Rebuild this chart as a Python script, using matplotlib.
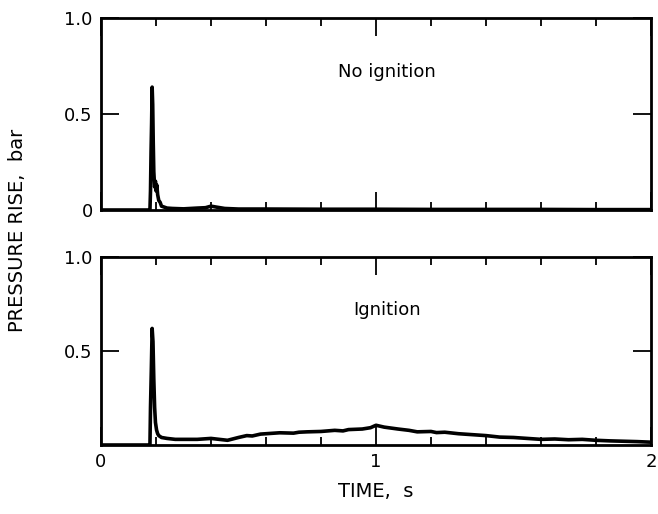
import matplotlib
matplotlib.use("Agg")
import matplotlib.pyplot as plt
from matplotlib.ticker import MultipleLocator

# Time (s) and pressure rise (bar)
t_top = [0.00, 0.17, 0.178, 0.180, 0.182, 0.184, 0.186, 0.188, 0.190, 0.192, 0.195,
         0.198, 0.200, 0.203, 0.206, 0.210, 0.215, 0.22, 0.23, 0.24, 0.26, 0.30,
         0.35, 0.38, 0.40, 0.42, 0.45, 0.50, 0.60, 0.80, 1.00, 1.20, 1.40, 1.60, 1.80, 2.00]
p_top = [0.00, 0.00, 0.00, 0.10, 0.30, 0.45, 0.64, 0.55, 0.35, 0.20, 0.12,
         0.15, 0.10, 0.13, 0.08, 0.05, 0.04, 0.02, 0.015, 0.01, 0.008, 0.006,
         0.01, 0.012, 0.02, 0.015, 0.008, 0.005, 0.005, 0.004, 0.004, 0.003, 0.003, 0.003, 0.002, 0.002]

t_bot = [0.00, 0.17, 0.178, 0.180, 0.183, 0.186, 0.189, 0.192, 0.195, 0.198, 0.202,
         0.206, 0.21, 0.22, 0.24, 0.27, 0.30, 0.35, 0.40, 0.43, 0.46, 0.50, 0.53, 0.55,
         0.58, 0.60, 0.65, 0.70, 0.72, 0.75, 0.80, 0.85, 0.88, 0.90, 0.95, 0.98, 1.00,
         1.03, 1.08, 1.12, 1.15, 1.20, 1.22, 1.25, 1.30, 1.35, 1.40, 1.45, 1.50, 1.55,
         1.60, 1.65, 1.70, 1.75, 1.80, 1.85, 1.90, 1.95, 2.00]
p_bot = [0.00, 0.00, 0.00, 0.20, 0.40, 0.62, 0.55, 0.35, 0.20, 0.12, 0.08,
         0.06, 0.05, 0.04, 0.035, 0.03, 0.03, 0.03, 0.035, 0.03, 0.025, 0.04, 0.05, 0.048,
         0.058, 0.06, 0.065, 0.063, 0.068, 0.07, 0.072, 0.078, 0.075, 0.082, 0.085, 0.092, 0.105,
         0.095, 0.085, 0.078, 0.07, 0.072, 0.066, 0.068, 0.06, 0.055, 0.05, 0.042, 0.04, 0.035,
         0.03, 0.032, 0.028, 0.03, 0.025, 0.022, 0.02, 0.018, 0.015]

labels = ["No ignition", "Ignition"]

fig = plt.figure(figsize=(6.58, 5.14), dpi=100)
ax1 = fig.add_axes([101/658, 1 - 210/514, 550/658, 192/514])
ax2 = fig.add_axes([101/658, 1 - 445/514, 550/658, 188/514])

for ax, t, p, lab in [(ax1, t_top, p_top, labels[0]), (ax2, t_bot, p_bot, labels[1])]:
    ax.plot(t, p, color="black", lw=2.6)
    ax.set_xlim(0, 2)
    ax.set_ylim(0, 1.0)
    for s in ax.spines.values():
        s.set_linewidth(2)
    ax.xaxis.set_major_locator(MultipleLocator(1))
    ax.xaxis.set_minor_locator(MultipleLocator(0.2))
    ax.yaxis.set_major_locator(MultipleLocator(0.5))
    ax.tick_params(which="both", direction="in", top=True, right=True, width=1.3,
                   labelsize=13, pad=6)
    ax.tick_params(which="major", length=13)
    ax.tick_params(which="minor", length=6)
    ax.text(1.04, 0.72, lab, fontsize=13, ha="center", va="center")

ax1.set_yticks([0, 0.5, 1.0])
ax1.set_yticklabels(["0", "0.5", "1.0"])
ax1.tick_params(axis="x", labelbottom=False)
ax2.set_yticks([0.5, 1.0])
ax2.set_yticklabels(["0.5", "1.0"])
ax2.set_xticks([0, 1, 2])
ax2.set_xticklabels(["0", "1", "2"])
ax2.set_xlabel("TIME,  s", fontsize=14, labelpad=8)
fig.text(18/658, 1 - 230/514, "PRESSURE RISE,  bar", rotation=90, fontsize=14,
         ha="center", va="center")

fig.savefig("out.png", dpi=100)
